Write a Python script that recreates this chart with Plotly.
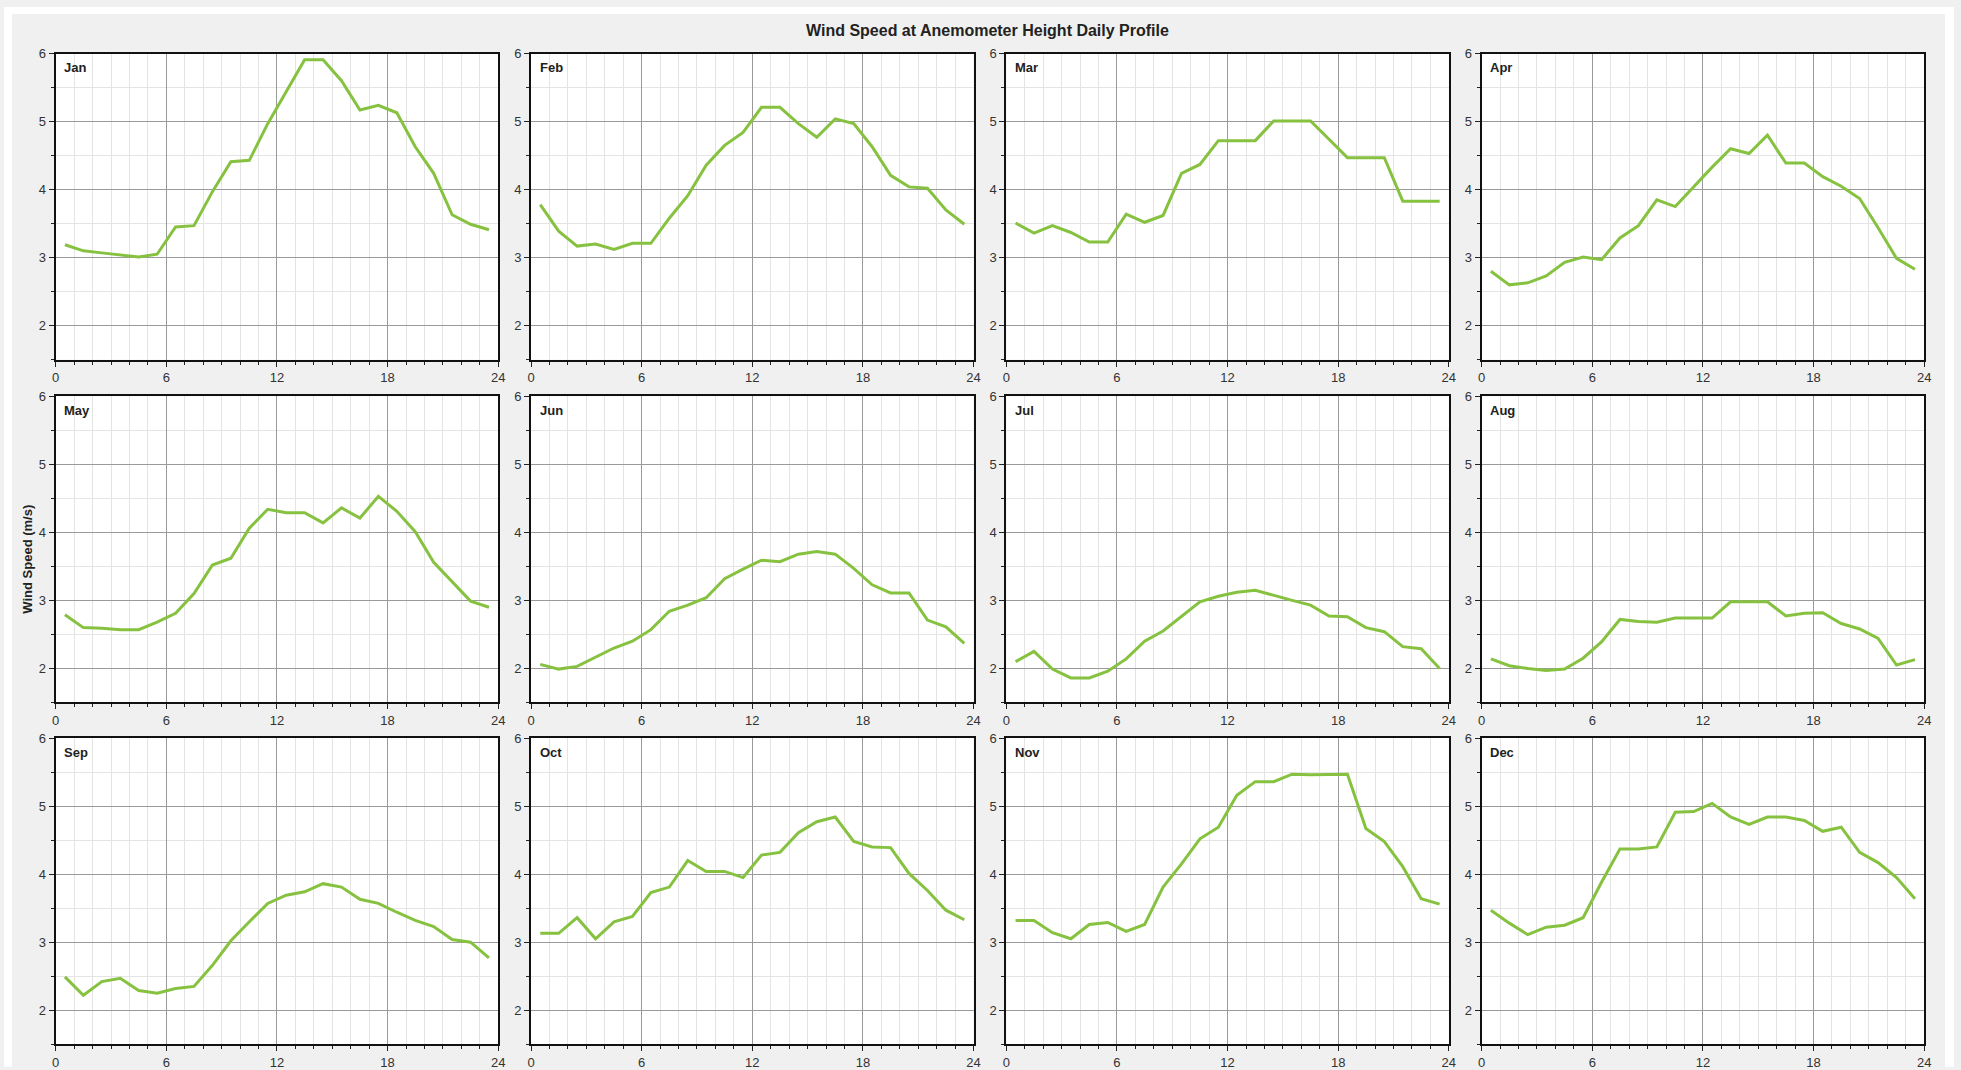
import plotly.graph_objects as go

hours = [h + 0.5 for h in range(24)]
months = ["Jan", "Feb", "Mar", "Apr", "May", "Jun", "Jul", "Aug", "Sep", "Oct", "Nov", "Dec"]

jan = [3.19, 3.10, 3.07, 3.04, 3.01, 3.05, 3.45, 3.47, 3.97, 4.41, 4.43, 4.97, 5.45, 5.91, 5.91, 5.60, 5.17, 5.24, 5.13, 4.63, 4.24, 3.63, 3.49, 3.41]
feb = [3.78, 3.39, 3.17, 3.20, 3.12, 3.21, 3.21, 3.58, 3.91, 4.36, 4.65, 4.84, 5.21, 5.21, 4.97, 4.77, 5.04, 4.97, 4.63, 4.21, 4.04, 4.02, 3.70, 3.49]
mar = [3.51, 3.36, 3.47, 3.37, 3.23, 3.23, 3.64, 3.52, 3.62, 4.24, 4.37, 4.72, 4.72, 4.72, 5.01, 5.01, 5.01, 4.74, 4.47, 4.47, 4.47, 3.83, 3.83, 3.83]
apr = [2.80, 2.60, 2.63, 2.73, 2.93, 3.01, 2.97, 3.29, 3.47, 3.85, 3.75, 4.04, 4.33, 4.60, 4.53, 4.80, 4.39, 4.39, 4.19, 4.05, 3.87, 3.44, 2.99, 2.83]
may = [2.79, 2.60, 2.59, 2.57, 2.57, 2.68, 2.81, 3.10, 3.52, 3.62, 4.06, 4.34, 4.29, 4.29, 4.14, 4.36, 4.21, 4.53, 4.31, 4.01, 3.56, 3.28, 2.99, 2.90]
jun = [2.06, 1.99, 2.03, 2.17, 2.30, 2.40, 2.57, 2.84, 2.93, 3.04, 3.32, 3.46, 3.59, 3.57, 3.68, 3.72, 3.68, 3.47, 3.23, 3.11, 3.11, 2.71, 2.61, 2.37]
jul = [2.10, 2.25, 1.99, 1.86, 1.86, 1.96, 2.14, 2.40, 2.55, 2.76, 2.98, 3.06, 3.12, 3.15, 3.07, 3.00, 2.93, 2.77, 2.76, 2.60, 2.54, 2.32, 2.29, 2.00]
aug = [2.14, 2.04, 2.00, 1.97, 1.99, 2.15, 2.39, 2.72, 2.69, 2.68, 2.74, 2.74, 2.74, 2.98, 2.98, 2.98, 2.77, 2.81, 2.82, 2.66, 2.58, 2.44, 2.05, 2.13]
sep = [2.49, 2.22, 2.42, 2.47, 2.29, 2.25, 2.32, 2.35, 2.66, 3.02, 3.30, 3.57, 3.69, 3.74, 3.86, 3.81, 3.63, 3.57, 3.44, 3.32, 3.23, 3.04, 3.00, 2.77]
oct_ = [3.13, 3.13, 3.36, 3.05, 3.30, 3.38, 3.73, 3.81, 4.20, 4.04, 4.04, 3.95, 4.28, 4.32, 4.61, 4.77, 4.84, 4.48, 4.40, 4.39, 4.01, 3.76, 3.47, 3.33]
nov = [3.32, 3.32, 3.14, 3.05, 3.26, 3.29, 3.16, 3.26, 3.81, 4.15, 4.52, 4.69, 5.16, 5.36, 5.36, 5.47, 5.46, 5.46, 5.47, 4.67, 4.48, 4.11, 3.64, 3.56]
dec = [3.47, 3.28, 3.11, 3.22, 3.25, 3.36, 3.88, 4.37, 4.37, 4.40, 4.91, 4.92, 5.04, 4.84, 4.73, 4.84, 4.84, 4.79, 4.63, 4.69, 4.32, 4.17, 3.95, 3.64]

series = [jan, feb, mar, apr, may, jun, jul, aug, sep, oct_, nov, dec]
x_ticks = [0, 6, 12, 18, 24]
y_ticks = [2, 3, 4, 5, 6]

W, H = 1961, 1070
col_left = [52, 530, 1008, 1486]
pw = 445
row_top = [47, 393, 738]
ph = 309

LINE = "#86c240"
font_fam = "Liberation Sans, Arial, sans-serif"

fig = go.Figure()
layout = dict(
    width=W, height=H, margin=dict(l=0, r=0, t=0, b=0),
    paper_bgcolor="#f0f0f0", plot_bgcolor="white", showlegend=False,
    font=dict(family=font_fam, size=13, color="#333333"),
)
annotations = []
for i, (m, vals) in enumerate(zip(months, series)):
    r, c = divmod(i, 4)
    n = "" if i == 0 else str(i + 1)
    x0 = col_left[c] / W
    x1 = (col_left[c] + pw) / W
    y1 = 1 - row_top[r] / H
    y0 = 1 - (row_top[r] + ph) / H
    fig.add_trace(go.Scatter(x=hours, y=vals, mode="lines",
                             line=dict(color=LINE, width=3),
                             xaxis="x" + n, yaxis="y" + n, hoverinfo="x+y"))
    layout["xaxis" + n] = dict(
        domain=[x0, x1], anchor="y" + n, range=[0, 24],
        tickvals=x_ticks, ticks="outside", ticklen=5, tickcolor="#222",
        showgrid=True, gridcolor="#9a9a9a", gridwidth=1,
        minor=dict(dtick=1, tick0=0, ticks="outside", ticklen=3, tickcolor="#222",
                   showgrid=True, gridcolor="#e4e4e4", gridwidth=1),
        showline=True, linecolor="#111", linewidth=2, mirror=True,
        zeroline=False, tickfont=dict(size=13, color="#333"),
    )
    layout["yaxis" + n] = dict(
        domain=[y0, y1], anchor="x" + n, range=[1.5, 6],
        tickvals=y_ticks, ticks="outside", ticklen=5, tickcolor="#222",
        showgrid=True, gridcolor="#9a9a9a", gridwidth=1,
        minor=dict(dtick=0.5, tick0=0, ticks="outside", ticklen=3, tickcolor="#222",
                   showgrid=True, gridcolor="#e4e4e4", gridwidth=1),
        showline=True, linecolor="#111", linewidth=2, mirror=True,
        zeroline=False, tickfont=dict(size=13, color="#333"),
    )
    annotations.append(dict(text="<b>" + m + "</b>", xref="x" + n + " domain", yref="y" + n + " domain",
                            x=0.015, y=0.985, xanchor="left", yanchor="top", showarrow=False,
                            font=dict(size=13, color="#222")))

annotations.append(dict(text="<b>Wind Speed at Anemometer Height Daily Profile</b>",
                        xref="paper", yref="paper", x=989 / W, y=1 - 24 / H,
                        xanchor="center", yanchor="middle", showarrow=False,
                        font=dict(size=16, color="#222")))
annotations.append(dict(text="<b>Wind Speed (m/s)</b>", xref="paper", yref="paper",
                        x=24 / W, y=1 - 557 / H, textangle=-90,
                        xanchor="center", yanchor="middle", showarrow=False,
                        font=dict(size=13, color="#222")))
layout["annotations"] = annotations

def band(x0, x1, y0, y1):
    return dict(type="rect", xref="paper", yref="paper",
                x0=x0 / W, x1=x1 / W, y0=1 - y1 / H, y1=1 - y0 / H,
                fillcolor="white", line=dict(width=0), layer="above")

layout["shapes"] = [band(0, 8, 0, H), band(1952, W, 0, H), band(0, W, 0, 7)]
fig.update_layout(**layout)
fig.write_html("out.html")
